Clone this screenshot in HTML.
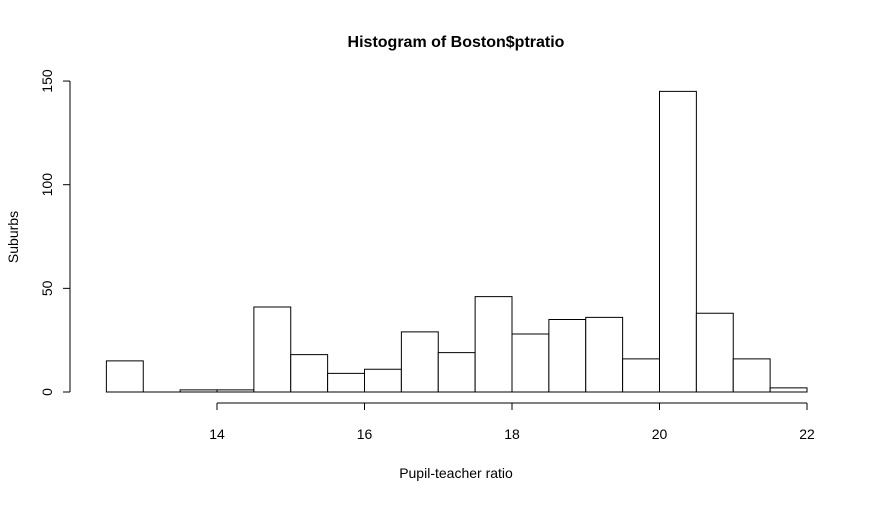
<!DOCTYPE html>
<html><head><meta charset="utf-8"><style>
body{margin:0;background:#fff}
svg text{font-family:"Liberation Sans",Arial,sans-serif;fill:#000}
</style></head><body>
<svg id="chart" width="876" height="503" xmlns="http://www.w3.org/2000/svg">
<text x="456" y="47" font-size="16" font-weight="bold" text-anchor="middle">Histogram of Boston$ptratio</text>
<text x="456" y="478" font-size="14" text-anchor="middle">Pupil-teacher ratio</text>
<text transform="translate(18,237) rotate(-90)" font-size="14" text-anchor="middle">Suburbs</text>
<g id="bars"></g><g id="xaxis"></g><g id="yaxis"></g>
</svg>
<script>
const binStarts=[12.5,13,13.5,14,14.5,15,15.5,16,16.5,17,17.5,18,18.5,19,19.5,20,20.5,21,21.5];
const counts=[15,0,1,1,41,18,9,11,29,19,46,28,35,36,16,145,38,16,2];
const binWidth=0.5;
const xTicks=[14,16,18,20,22];
const yTicks=[0,50,100,150];
const NS="http://www.w3.org/2000/svg";
const xs=v=>217+(v-14)*73.75;
const ys=v=>392-v*2.073;
function mk(t,a,p){const e=document.createElementNS(NS,t);for(const k in a)e.setAttribute(k,a[k]);p.appendChild(e);return e;}
const bars=document.getElementById('bars');
binStarts.forEach((s,i)=>{
 const x0=xs(s),x1=xs(s+binWidth),y=ys(counts[i]);
 const r=mk('path',{d:`M${x0},392L${x0},${y}L${x1},${y}L${x1},392Z`,fill:'#fff',stroke:'#000','stroke-width':1},bars);
 
 
});
const xa=document.getElementById('xaxis');
mk('line',{x1:xs(xTicks[0]),x2:xs(xTicks[xTicks.length-1]),y1:403,y2:403,stroke:'#000'},xa);
xTicks.forEach(t=>{
 mk('line',{x1:xs(t),x2:xs(t),y1:403,y2:410,stroke:'#000'},xa);
 const tx=mk('text',{x:xs(t),y:439,'font-size':14,'text-anchor':'middle'},xa);tx.textContent=t;
 
 
});
const ya=document.getElementById('yaxis');
mk('line',{x1:70,x2:70,y1:ys(yTicks[0]),y2:ys(yTicks[yTicks.length-1]),stroke:'#000'},ya);
yTicks.forEach(t=>{
 mk('line',{x1:63,x2:70,y1:ys(t),y2:ys(t),stroke:'#000'},ya);
 const tx=mk('text',{transform:`translate(52,${ys(t)}) rotate(-90)`,'font-size':14,'text-anchor':'middle'},ya);tx.textContent=t;
 
 
});
</script>
</body></html>
